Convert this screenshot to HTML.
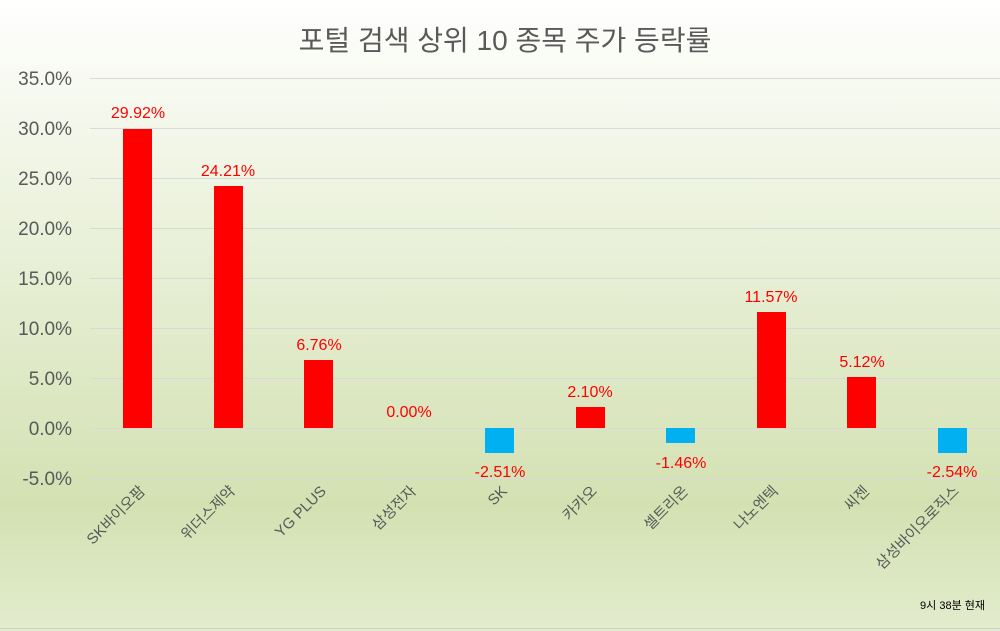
<!DOCTYPE html><html><head><meta charset="utf-8"><style>
html,body{margin:0;padding:0;width:1000px;height:631px;overflow:hidden}
svg{display:block;font-family:"Liberation Sans","Noto Sans CJK KR",sans-serif}
</style></head><body>
<svg width="1000" height="631" viewBox="0 0 1000 631">
<defs><linearGradient id="g" x1="0" y1="0" x2="0" y2="1">
<stop offset="0" stop-color="#ffffff"/><stop offset="0.15" stop-color="#f6f9ef"/>
<stop offset="0.8" stop-color="#d3e1b2"/><stop offset="1" stop-color="#e3ecce"/></linearGradient></defs>
<rect width="1000" height="631" fill="url(#g)"/>
<line x1="0" y1="628.5" x2="1000" y2="628.5" stroke="#d0d0d0"/>
<text x="505" y="50" text-anchor="middle" font-size="28" fill="#595959">포털 검색 상위 10 종목 주가 등락률</text>
<g stroke="#d9d9d9" stroke-width="1">
<line x1="90" y1="78.5" x2="1000" y2="78.5"/><line x1="90" y1="128.5" x2="1000" y2="128.5"/>
<line x1="90" y1="178.5" x2="1000" y2="178.5"/><line x1="90" y1="228.5" x2="1000" y2="228.5"/>
<line x1="90" y1="278.5" x2="1000" y2="278.5"/><line x1="90" y1="328.5" x2="1000" y2="328.5"/>
<line x1="90" y1="378.5" x2="1000" y2="378.5"/><line x1="90" y1="428.5" x2="1000" y2="428.5"/>
<line x1="90" y1="478.5" x2="1000" y2="478.5"/></g>
<g font-size="19" fill="#595959" text-anchor="end">
<text x="72" y="85">35.0%</text><text x="72" y="135">30.0%</text><text x="72" y="185">25.0%</text>
<text x="72" y="235">20.0%</text><text x="72" y="285">15.0%</text><text x="72" y="335">10.0%</text>
<text x="72" y="385">5.0%</text><text x="72" y="435">0.0%</text><text x="72" y="485">-5.0%</text></g>
<g fill="#ff0000">
<rect x="123" y="129" width="29" height="299"/><rect x="214" y="186" width="29" height="242"/>
<rect x="304" y="360" width="29" height="68"/><rect x="576" y="407" width="29" height="21"/>
<rect x="757" y="312" width="29" height="116"/><rect x="847" y="377" width="29" height="51"/></g>
<g fill="#00b0f0">
<rect x="485" y="428" width="29" height="25"/><rect x="666" y="428" width="29" height="15"/>
<rect x="938" y="428" width="29" height="25"/></g>
<g font-size="16" fill="#ff0000" text-anchor="middle">
<text x="138" y="118">29.92%</text><text x="228" y="176">24.21%</text><text x="319" y="350">6.76%</text>
<text x="409" y="417">0.00%</text><text x="500" y="477">-2.51%</text><text x="590" y="397">2.10%</text>
<text x="681" y="468">-1.46%</text><text x="771" y="302">11.57%</text><text x="862" y="367">5.12%</text>
<text x="952" y="477">-2.54%</text></g>
<g font-size="15" fill="#595959" text-anchor="end">
<text transform="translate(146,492) rotate(-45)">SK바이오팜</text>
<text transform="translate(236,492) rotate(-45)">위더스제약</text>
<text transform="translate(327,492) rotate(-45)">YG PLUS</text>
<text transform="translate(417,492) rotate(-45)">삼성전자</text>
<text transform="translate(508,492) rotate(-45)">SK</text>
<text transform="translate(598,492) rotate(-45)">카카오</text>
<text transform="translate(689,492) rotate(-45)">셀트리온</text>
<text transform="translate(779,492) rotate(-45)">나노엔텍</text>
<text transform="translate(870,492) rotate(-45)">씨젠</text>
<text transform="translate(960,492) rotate(-45)">삼성바이오로직스</text></g>
<text x="985" y="609" text-anchor="end" font-size="11" fill="#000">9시 38분 현재</text>
</svg></body></html>
